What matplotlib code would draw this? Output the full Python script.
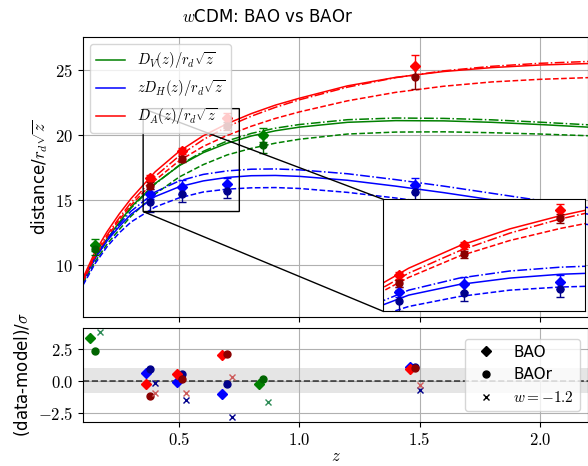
import matplotlib
matplotlib.use("Agg")
import matplotlib.pyplot as plt
from matplotlib.lines import Line2D
from matplotlib.ticker import FormatStrFormatter

plt.rcParams['mathtext.fontset'] = 'cm'
plt.rcParams['font.size'] = 12

# model curves (distance / r_d sqrt(z)) sampled in z
z_model = [0.1, 0.15, 0.2, 0.25, 0.3, 0.4, 0.5, 0.6, 0.7, 0.8, 0.9, 1.0,
           1.2, 1.4, 1.6, 1.8, 2.0, 2.2]

dv_fit = [8.85, 10.6, 12.0, 13.25, 14.45, 16.25, 17.62, 18.62, 19.35, 19.9,
          20.3, 20.58, 20.95, 21.08, 21.06, 20.95, 20.78, 20.58]
dv_fitr = [8.6, 10.25, 11.6, 12.7, 13.75, 15.45, 16.75, 17.7, 18.45, 18.95,
           19.35, 19.65, 20.05, 20.2, 20.22, 20.15, 20.05, 19.92]
dv_w12 = [8.78, 10.5, 11.9, 13.15, 14.37, 16.22, 17.65, 18.72, 19.52, 20.1,
          20.5, 20.78, 21.15, 21.28, 21.25, 21.14, 20.96, 20.76]

dh_fit = [8.8, 10.5, 11.85, 12.93, 13.9, 15.25, 16.0, 16.45, 16.72, 16.85,
          16.87, 16.8, 16.5, 16.05, 15.55, 15.0, 14.45, 13.9]
dh_fitr = [8.45, 10.1, 11.4, 12.45, 13.3, 14.45, 15.15, 15.6, 15.82, 15.92,
           15.94, 15.87, 15.57, 15.14, 14.65, 14.12, 13.6, 13.1]
dh_w12 = [8.85, 10.58, 11.97, 13.1, 14.13, 15.6, 16.45, 16.95, 17.22, 17.35,
          17.37, 17.3, 17.0, 16.55, 16.05, 15.5, 14.95, 14.4]

da_fit = [9.0, 11.0, 12.55, 13.9, 15.1, 17.15, 18.72, 19.92, 20.85, 21.62,
          22.27, 22.8, 23.75, 24.4, 24.85, 25.15, 25.35, 25.46]
da_fitr = [8.75, 10.65, 12.15, 13.45, 14.6, 16.5, 18.0, 19.1, 19.95, 20.65,
           21.25, 21.75, 22.6, 23.25, 23.72, 24.05, 24.25, 24.38]
da_w12 = [8.85, 10.8, 12.3, 13.6, 14.8, 16.8, 18.37, 19.62, 20.62, 21.42,
          22.1, 22.68, 23.65, 24.38, 24.9, 25.25, 25.48, 25.62]

# measurements
z_iso = [0.15, 0.85]
dv_bao = [11.52, 19.99]
dv_bao_err = [0.44, 0.55]
dv_baor = [11.2, 19.22]
dv_baor_err = [0.42, 0.6]

z_ani = [0.38, 0.51, 0.70, 1.48]
da_bao = [16.66, 18.76, 21.25, 25.31]
da_bao_err = [0.25, 0.25, 0.45, 0.77]
da_baor = [16.09, 18.12, 20.66, 24.41]
da_baor_err = [0.25, 0.25, 0.33, 0.87]
dh_bao = [15.45, 16.01, 16.2, 16.14]
dh_bao_err = [0.36, 0.53, 0.5, 0.52]
dh_baor = [14.85, 15.42, 15.65, 15.58]
dh_baor_err = [0.75, 0.58, 0.55, 0.6]

# residuals (data-model)/sigma
res_dv_bao = [3.34, -0.29]
res_dv_baor = [2.36, 0.13]
res_dv_w12 = [3.78, -1.68]
res_da_bao = [-0.29, 0.5, 2.0, 0.9]
res_da_baor = [-1.2, 0.16, 2.1, 1.0]
res_da_w12 = [-1.0, -0.99, 0.31, -0.34]
res_dh_bao = [0.63, -0.1, -1.02, 1.1]
res_dh_baor = [0.92, 0.5, -0.29, 1.1]
res_dh_w12 = [-0.21, -1.52, -2.88, -0.73]
dz = 0.02

curves = {
    'dv': ('green', dv_fit, dv_fitr, dv_w12, r'$D_V(z)/r_d\sqrt{z}$'),
    'dh': ('blue', dh_fit, dh_fitr, dh_w12, r'$zD_H(z)/r_d\sqrt{z}$'),
    'da': ('red', da_fit, da_fitr, da_w12, r'$D_A(z)/r_d\sqrt{z}$'),
}
points = {
    'dv': (z_iso, dv_bao, dv_bao_err, dv_baor, dv_baor_err, 'green', 'darkgreen'),
    'dh': (z_ani, dh_bao, dh_bao_err, dh_baor, dh_baor_err, 'blue', 'darkblue'),
    'da': (z_ani, da_bao, da_bao_err, da_baor, da_baor_err, 'red', 'darkred'),
}

fig = plt.figure(figsize=(5.88, 4.66), dpi=100)
ax = fig.add_axes([0.1412, 0.3197, 0.8588, 0.6009])
axr = fig.add_axes([0.1412, 0.0951, 0.8588, 0.2010], sharex=ax)
axins = ax.inset_axes([0.595, 0.02, 0.4, 0.4])


def draw_main(a, keys, legend=False):
    for k in keys:
        col, fit, fitr, w12, lab = curves[k]
        a.plot(z_model, fit, color=col, lw=1.1, label=lab if legend else None)
        a.plot(z_model, fitr, color=col, lw=1.1, ls='--')
        a.plot(z_model, w12, color=col, lw=1.1, ls='-.')
    for k in keys:
        zz, y, e, yr, er, c1, c2 = points[k]
        a.errorbar(zz, y, yerr=e, fmt='D', color=c1, ms=5, capsize=3, lw=1)
        a.errorbar(zz, yr, yerr=er, fmt='o', color=c2, ms=5, capsize=3, lw=1)


draw_main(ax, ['dv', 'dh', 'da'], legend=True)
ax.set_xlim(0.1, 2.2)
ax.set_ylim(6, 27.5)
ax.set_yticks([10, 15, 20, 25])
ax.yaxis.set_major_formatter(FormatStrFormatter(r'$%d$'))
ax.grid(True)
ax.set_ylabel(r'distance/$r_d\sqrt{z}$')
ax.legend(loc='upper left', fontsize=10.5)
plt.setp(ax.get_xticklabels(), visible=False)

# zoomed view of the low-z anisotropic points
draw_main(axins, ['dh', 'da'])
axins.set_xlim(0.35, 0.75)
axins.set_ylim(14.1, 22.0)
axins.set_xticks([])
axins.set_yticks([])
ind = ax.indicate_inset_zoom(axins, edgecolor='k', alpha=1, lw=1)
for c, vis in zip(ind.connectors, [True, True, False, False]):
    c.set_visible(vis)

# residual panel
axr.axhspan(-1, 1, color='gray', alpha=0.2, lw=0)
axr.axhline(0, color='k', ls='--', alpha=0.7, lw=1.2)
for zz, rb, rr, rw, c1, c2, c3 in [
        (z_iso, res_dv_bao, res_dv_baor, res_dv_w12, 'green', 'darkgreen', 'seagreen'),
        (z_ani, res_dh_bao, res_dh_baor, res_dh_w12, 'blue', 'darkblue', 'darkblue'),
        (z_ani, res_da_bao, res_da_baor, res_da_w12, 'red', 'darkred', 'indianred')]:
    axr.plot([z - dz for z in zz], rb, 'D', color=c1, ms=5)
    axr.plot(zz, rr, 'o', color=c2, ms=5)
    axr.plot([z + dz for z in zz], rw, 'x', color=c3, ms=4, mew=1)
axr.set_ylim(-3.21, 4.12)
axr.set_yticks([-2.5, 0.0, 2.5])
axr.set_xticks([0.5, 1.0, 1.5, 2.0])
axr.yaxis.set_major_formatter(FormatStrFormatter(r'$%.1f$'))
axr.xaxis.set_major_formatter(FormatStrFormatter(r'$%.1f$'))
axr.grid(True)
axr.set_xlabel(r'$z$')
axr.xaxis.set_label_coords(0.5, -0.27)
axr.set_ylabel(r'(data-model)/$\sigma$')
handles = [Line2D([], [], color='k', marker='D', ls='none', ms=5, label='BAO'),
           Line2D([], [], color='k', marker='o', ls='none', ms=5, label='BAOr'),
           Line2D([], [], color='k', marker='x', ls='none', ms=4, label=r'$w=-1.2$')]
axr.legend(handles=handles, loc='center right', fontsize=11)

fig.text(0.455, 0.963, r'$w$CDM: BAO vs BAOr', ha='center', va='center',
         fontsize=12)

fig.savefig('out.png', dpi=100)
